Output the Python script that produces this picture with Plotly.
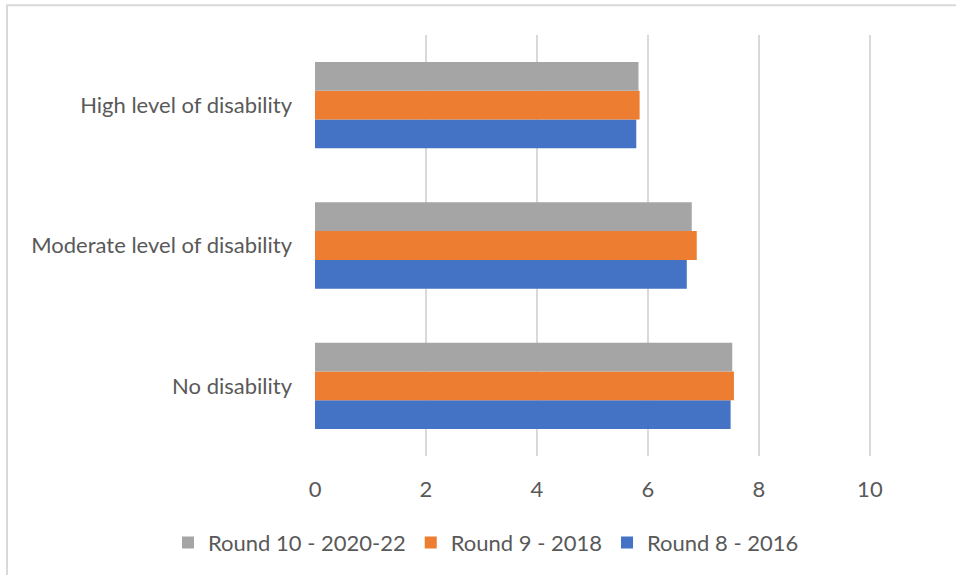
import plotly.graph_objects as go

categories = ["No disability", "Moderate level of disability", "High level of disability"]
round8 = [7.49, 6.70, 5.79]
round9 = [7.55, 6.88, 5.85]
round10 = [7.52, 6.79, 5.83]
series_names = ["Round 8 - 2016", "Round 9 - 2018", "Round 10 - 2020-22"]
colors = ["#4472C4", "#ED7D31", "#A5A5A5"]
tick_vals = [0, 2, 4, 6, 8, 10]

fig = go.Figure()
for name, vals, c in zip(series_names, [round8, round9, round10], colors):
    fig.add_trace(go.Bar(y=categories, x=vals, name=name, orientation="h",
                         marker=dict(color=c, line=dict(width=0))))

font = "Lato, Liberation Sans, Arial, sans-serif"
FS = 22
L, R, T, B = 315, 871, 35, 458
W, H = R - L, B - T
fig.update_layout(
    width=956, height=575,
    margin=dict(l=L, r=956 - R, t=T, b=575 - B, pad=0),
    barmode="group", bargap=0.385, bargroupgap=0,
    plot_bgcolor="white", paper_bgcolor="white",
    font=dict(family=font, size=FS, color="#595959"),
    xaxis=dict(range=[0, 10.02], tickvals=tick_vals, showgrid=True, gridcolor="#d9d9d9",
               gridwidth=2, zeroline=False, showline=False, ticks="",
               ticklabelstandoff=18,
               tickfont=dict(size=FS, color="#595959")),
    yaxis=dict(showgrid=False, zeroline=False, showline=False, ticks="",
               ticklabelstandoff=22, tickfont=dict(size=FS, color="#595959")),
    legend=dict(orientation="h", traceorder="reversed",
                x=(168 - L) / W, xanchor="left",
                y=(B - 545) / H, yanchor="middle",
                font=dict(size=FS, color="#595959"),
                itemwidth=30, tracegroupgap=0),
    shapes=[dict(type="rect", xref="paper", yref="paper",
                 x0=(7 - L) / W, x1=(970 - L) / W,
                 y0=(B - 590) / H, y1=(B - 5) / H,
                 line=dict(color="#d9d9d9", width=2), fillcolor="rgba(0,0,0,0)", layer="below")],
)
fig.write_html("out.html")
